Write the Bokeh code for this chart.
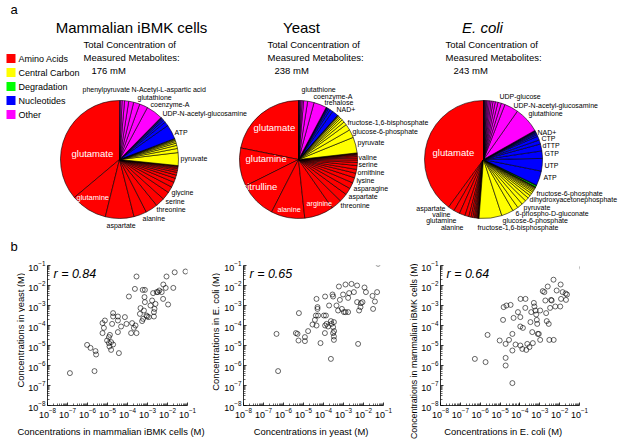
import numpy as np
from bokeh.plotting import figure
from bokeh.models import Range1d, ColumnDataSource, Label, FixedTicker
from bokeh.layouts import column, row
from bokeh.embed import file_html
from bokeh.resources import INLINE
from bokeh.core.properties import value

FONT = "Liberation Sans"

# ---------------------------------------------------------------- data
categories = ["Amino Acids", "Central Carbon", "Degradation", "Nucleotides", "Other"]
category_colors = ["#FF0000", "#FFFF00", "#00FF00", "#0000FF", "#FF00FF"]

organisms = ["Mammalian iBMK cells", "Yeast", "E. coli"]
totals = ["176 mM", "238 mM", "243 mM"]

# slice concentrations (mM); each category sorted largest first,
# pie drawn counter-clockwise from 12 o'clock
ibmk_amino = [63.6, 17.6, 13.8, 6.2, 5.9, 4.4, 3.9, 3.0, 2.5, 2.0, 1.6, 1.3, 1.0, 0.8, 0.6, 0.4, 0.3, 0.2]
ibmk_central = [6.2, 2.0, 1.5, 1.1, 0.8, 0.6, 0.4, 0.3, 0.2]
ibmk_degradation = []
ibmk_nucleotides = [7.0, 2.0, 1.2, 0.8, 0.5, 0.3, 0.2]
ibmk_other = [8.0, 4.0, 3.0, 2.4, 2.0, 1.2, 0.8, 0.4]

yeast_amino = [52, 25, 24, 22, 19, 7, 5.5, 4.5, 4.0, 3.5, 3.0, 2.5, 2.5, 2.0, 1.6, 1.3, 1.0, 0.8, 0.6, 0.4, 0.3, 0.2]
yeast_central = [10.3, 5.3, 4.0, 2.2, 1.8, 1.4, 1.1, 0.8, 0.5, 0.3, 0.1]
yeast_degradation = []
yeast_nucleotides = [4.0, 2.0, 1.2, 0.8, 0.5, 0.3, 0.1]
yeast_other = [8.4, 4.2, 2.6, 1.0, 0.8, 0.6, 0.4, 0.3, 0.2]

ecoli_amino = [96, 4.2, 4.0, 3.8, 2.6, 1.5, 1.2, 1.0, 0.8, 0.7, 0.5, 0.4, 0.3, 0.2, 0.1]
ecoli_central = [15, 7.9, 3.8, 3.6, 3.0, 2.5, 2.0, 1.6, 1.3, 1.0, 0.9, 0.7, 0.5, 0.4, 0.2, 0.1]
ecoli_degradation = [1.0, 0.3]
ecoli_nucleotides = [9.6, 8.3, 4.9, 4.6, 2.7, 2.6, 1.2, 0.9, 0.7, 0.5, 0.4, 0.3, 0.2]
ecoli_other = [17, 9.2, 2.5, 2.2, 1.8, 1.5, 1.3, 1.1, 0.9, 0.8, 0.6, 0.5, 0.4, 0.3, 0.2, 0.1]

# slice names shown
ibmk_names_out = ["phenylpyruvate", "N-Acetyl-L-aspartic acid", "glutathione", "coenzyme-A",
                  "UDP-N-acetyl-glucosamine", "ATP", "pyruvate", "glycine", "serine",
                  "threonine", "alanine", "aspartate"]
ibmk_names_in = ["glutamate", "glutamine"]
yeast_names_out = ["glutathione", "coenzyme-A", "trehalose", "NAD+", "fructose-1,6-bisphosphate",
                   "glucose-6-phosphate", "pyruvate", "valine", "serine", "ornithine", "lysine",
                   "asparagine", "aspartate", "threonine"]
yeast_names_in = ["glutamate", "glutamine", "citrulline", "alanine", "arginine"]
ecoli_names_right = ["UDP-glucose", "UDP-N-acetyl-glucosamine", "glutathione", "NAD+", "CTP",
                     "dTTP", "GTP", "UTP", "ATP", "fructose-6-phosphate",
                     "dihydroxyacetonephosphate", "pyruvate", "6-phospho-D-gluconate",
                     "glucose-6-phosphate", "fructose-1,6-bisphosphate"]
ecoli_names_left = ["aspartate", "valine", "glutamine", "alanine"]
ecoli_names_in = ["glutamate"]

# scatter data: log10 concentration (M)
ibmk_vs_yeast_x = [-6.88, -5.65, -6.02, -5.85, -5.6, -5.57, -5.25, -5.13, -5.18, -5.25, -4.93, -4.88,
                   -5.02, -4.93, -4.82, -4.9, -4.72, -4.82, -4.72, -4.72, -4.77, -4.48, -4.48, -4.48,
                   -4.43, -4.32, -4.13, -4.05, -3.93, -3.82, -3.77, -3.6, -3.68, -3.55, -3.38, -3.35,
                   -3.27, -3.22, -3.18, -3.15, -3.13, -3.05, -3.02, -2.93, -2.85, -2.77, -2.68, -2.68,
                   -2.72, -2.65, -2.6, -2.48, -2.22, -1.97, -3.63, -3.24, -3.13, -2.21, -2.09, -1.71,
                   -2.41, -2.29, -2.54, -3.55, -2.05, -1.64, -1.1]
ibmk_vs_yeast_y = [-6.38, -6.28, -4.97, -5.12, -5.28, -5.45, -3.88, -3.75, -4.12, -4.38, -4.58, -4.47,
                   -4.75, -4.88, -4.83, -5.05, -4.95, -5.22, -3.38, -3.55, -3.92, -3.55, -3.75, -4.33,
                   -5.38, -4.05, -3.58, -3.92, -2.55, -4.38, -3.88, -4.0, -4.12, -4.38, -3.42, -3.13,
                   -3.78, -3.67, -3.25, -2.58, -2.83, -3.5, -3.55, -3.58, -3.0, -2.75, -3.33, -3.55,
                   -2.38, -3.17, -2.92, -2.33, -2.67, -2.95, -2.17, -2.22, -2.22, -1.95, -2.12, -2.12,
                   -2.25, -2.33, -2.33, -1.55, -1.55, -1.34, -1.3]

yeast_vs_ecoli_x = [-6.35, -6.27, -5.38, -5.3, -5.25, -4.93, -4.93, -5.23, -4.77, -4.55, -4.43, -4.38,
                    -4.35, -4.3, -4.3, -4.27, -4.35, -4.15, -3.98, -3.92, -3.88, -3.92, -3.85, -3.93,
                    -3.77, -3.72, -3.63, -3.6, -3.55, -3.52, -3.48, -3.52, -3.52, -3.47, -3.48, -3.48,
                    -3.63, -3.35, -3.27, -3.18, -3.08, -3.02, -2.98, -2.9, -2.77, -2.77, -2.72, -2.48,
                    -2.32, -2.27, -2.22, -2.13, -2.15, -2.05, -1.88, -1.55, -1.52, -1.43, -1.32,
                    -3.23, -2.9, -2.6, -2.32, -1.95, -1.27]
yeast_vs_ecoli_y = [-4.42, -6.28, -4.38, -4.42, -4.75, -4.58, -4.78, -3.38, -4.28, -3.95, -3.72, -3.5,
                    -2.67, -3.08, -3.17, -3.5, -4.0, -4.88, -3.5, -2.55, -3.5, -4.0, -3.92, -4.38,
                    -4.05, -3.0, -3.78, -3.92, -2.45, -2.55, -3.83, -4.08, -4.38, -4.28, -4.55, -4.72,
                    -5.67, -3.0, -3.25, -2.72, -3.17, -2.45, -3.33, -3.33, -2.62, -3.33, -2.38, -2.33,
                    -2.83, -4.92, -3.25, -2.88, -3.08, -2.83, -2.33, -2.52, -3.17, -2.8, -2.33,
                    -2.05, -1.95, -1.92, -2.0, -2.1, -0.91]

ecoli_vs_ibmk_x = [-6.27, -5.73, -5.63, -5.02, -4.85, -4.82, -4.68, -4.47, -4.72, -4.72, -4.72, -4.55,
                   -4.38, -4.38, -4.32, -4.22, -4.1, -3.98, -3.98, -3.97, -3.98, -3.88, -3.85, -3.72,
                   -3.73, -3.68, -3.63, -3.52, -3.47, -3.43, -3.38, -3.35, -3.3, -3.27, -3.22, -3.18,
                   -3.15, -3.13, -3.1, -3.05, -2.98, -2.98, -2.85, -2.77, -2.72, -2.68, -2.65, -2.55,
                   -2.52, -2.48, -2.43, -2.4, -2.3, -2.22, -2.15, -1.97, -1.93, -1.85, -1.68, -1.63,
                   -0.87, -2.31, -1.95, -2.6, -1.7, -4.38]
ecoli_vs_ibmk_y = [-5.67, -5.83, -4.47, -4.75, -3.72, -3.08, -3.0, -2.97, -4.92, -5.62, -6.0, -4.72,
                   -4.42, -5.25, -3.62, -4.95, -3.33, -3.58, -4.05, -2.67, -5.0, -5.17, -4.12, -2.67,
                   -3.12, -5.22, -4.92, -5.08, -3.83, -3.33, -4.33, -4.88, -2.87, -3.05, -3.25, -3.45,
                   -3.72, -3.92, -4.42, -4.42, -4.72, -3.25, -2.28, -2.33, -2.75, -3.38, -3.78, -3.92,
                   -4.72, -3.12, -2.72, -2.75, -4.72, -3.05, -2.25, -3.05, -2.67, -2.33, -2.72, -2.45,
                   -1.11, -1.71, -1.95, -2.05, -2.4, -6.88]

r_values = ["0.84", "0.65", "0.64"]
tick_exponents = [-8, -7, -6, -5, -4, -3, -2, -1]
axis_names = ["mammalian iBMK cells", "yeast", "E. coli"]

# ---------------------------------------------------------------- helpers
def blank(x0, x1, y0, y1):
    """Plain figure whose data coordinates are page pixels (y negated)."""
    f = figure(width=x1 - x0, height=y1 - y0, x_range=Range1d(x0, x1), y_range=Range1d(-y1, -y0),
               output_backend="svg", toolbar_location=None, x_axis_location=None,
               y_axis_location=None, min_border=0)
    f.grid.visible = False
    f.outline_line_color = None
    return f


def texts(fig, names, xs, ys, size, align="left", color="black", style="normal", angle=0.0):
    fig.text(x=xs, y=[-v for v in ys], text=names, text_align=align, text_baseline="middle",
             text_font=value(FONT), text_font_size=size, text_color=color,
             text_font_style=style, angle=angle)


def pie(fig, groups, cx, cy, r):
    vals, cols = [], []
    for g, c in zip(groups, category_colors):
        vals += g
        cols += [c] * len(g)
    vals = np.array(vals, dtype=float)
    cum = np.concatenate([[0.0], np.cumsum(vals)]) / vals.sum()
    src = ColumnDataSource(dict(start=np.pi / 2 + 2 * np.pi * cum[:-1],
                                end=np.pi / 2 + 2 * np.pi * cum[1:], color=cols))
    fig.wedge(x=cx, y=-cy, radius=r, start_angle="start", end_angle="end",
              fill_color="color", line_color="black", line_width=0.6, source=src)


# ---------------------------------------------------------------- top panel (a)
top = blank(0, 622, 0, 255)

R = 59
pie(top, [ibmk_amino, ibmk_central, ibmk_degradation, ibmk_nucleotides, ibmk_other], 119, 159, R)
pie(top, [yeast_amino, yeast_central, yeast_degradation, yeast_nucleotides, yeast_other], 298, 159, R)
pie(top, [ecoli_amino, ecoli_central, ecoli_degradation, ecoli_nucleotides, ecoli_other], 483, 159, R)

texts(top, ["a"], [10], [9], "13px")
texts(top, ["b"], [10], [246], "13px")

legend_y = [58, 72, 86, 100, 114]
top.rect(x=10.5, y=[-v for v in legend_y], width=9, height=9, fill_color=category_colors,
         line_color=None)
texts(top, categories, [18] * 5, legend_y, "9px")

texts(top, organisms[:2], [131, 301], [27, 27], "15px", align="center")
texts(top, organisms[2:], [482], [27], "15px", align="center", style="italic")
sub_x = [83, 267, 445]
for i in range(3):
    texts(top, ["Total Concentration of", "Measured Metabolites:"], [sub_x[i]] * 2, [43.5, 57],
          "9.5px")
texts(top, totals, [91, 274, 453], [70, 70, 70], "9.5px")

texts(top, ibmk_names_out,
      [82, 131, 137, 150, 162, 174, 180, 171, 165, 156, 142, 106],
      [89, 89, 97, 104, 113, 132, 158, 192, 201, 209, 218, 225], "7px")
texts(top, ibmk_names_in[:1], [71], [153], "9.5px", color="white")
texts(top, ibmk_names_in[1:], [76], [197], "7.5px", color="white")

texts(top, yeast_names_out,
      [301, 313, 324, 336, 347, 352, 357, 358, 358, 357, 356, 353, 348, 340],
      [89, 96, 102, 109, 122, 131, 142, 157, 164, 172, 180, 188, 196, 205], "7px")
texts(top, yeast_names_in[:3], [253, 245, 242], [127, 158, 186], "9.5px", color="white")
texts(top, yeast_names_in[3:], [277, 306], [209, 203], "7.2px", color="white")

texts(top, ecoli_names_right,
      [499, 513, 528, 537, 541, 542, 544, 544, 543, 536, 529, 523, 515, 502, 477],
      [96, 105, 113, 132, 138, 145, 153, 165, 177, 193, 199, 207, 213, 220, 227], "7px")
texts(top, ecoli_names_left, [445, 450, 456, 463], [208, 214, 220, 227], "7px", align="right")
texts(top, ecoli_names_in, [432], [152], "9.5px", color="white")

# ---------------------------------------------------------------- scatter panels (b)
major = [10.0 ** e for e in tick_exponents]
minor = [k * 10.0 ** e for e in tick_exponents[:-1] for k in range(2, 10)]

PANEL_TOP, FRAME_TOP, FRAME_BOTTOM, PANEL_BOTTOM = 255, 265, 405, 424


def scatter_panel(x0, x1, frame_left, frame_right, xs, ys, r_txt):
    s = figure(width=x1 - x0, height=PANEL_BOTTOM - PANEL_TOP, x_axis_type="log",
               y_axis_type="log", x_range=Range1d(1e-8, 1e-1), y_range=Range1d(1e-8, 1e-1),
               min_border_left=frame_left - x0, min_border_right=x1 - frame_right,
               min_border_top=FRAME_TOP - PANEL_TOP, min_border_bottom=PANEL_BOTTOM - FRAME_BOTTOM,
               output_backend="svg", toolbar_location=None)
    s.grid.visible = False
    s.outline_line_color = None
    for ax in (s.xaxis[0], s.yaxis[0]):
        ax.ticker = FixedTicker(ticks=major, minor_ticks=minor)
        ax.major_tick_in = 3
        ax.major_tick_out = 0
        ax.minor_tick_in = 2
        ax.minor_tick_out = 0
        ax.axis_line_width = 0.8
        ax.major_tick_line_width = 0.8
        ax.minor_tick_line_width = 0.6
        ax.major_label_text_font = FONT
        ax.major_label_text_font_size = "9px"
        ax.major_label_text_color = "black"
        ax.major_label_standoff = 2
    s.scatter(x=[10.0 ** v for v in xs], y=[10.0 ** v for v in ys], size=5, marker="circle",
              fill_color=None, line_color="black", line_width=0.6)
    s.add_layout(Label(x=6, y=132, x_units="screen", y_units="screen", text="r = " + r_txt,
                       text_align="left", text_baseline="middle", text_font=FONT,
                       text_font_size="12.5px", text_font_style="italic", text_color="black"))
    return s


s1 = scatter_panel(25, 205, 47, 187, ibmk_vs_yeast_x, ibmk_vs_yeast_y, r_values[0])
s2 = scatter_panel(220, 405, 243, 383, yeast_vs_ecoli_x, yeast_vs_ecoli_y, r_values[1])
s3 = scatter_panel(418, 622, 439, 579, ecoli_vs_ibmk_x, ecoli_vs_ibmk_y, r_values[2])


def axis_title(name):
    return "Concentrations in " + name + " (M)"


# y-axis titles (rotated, top end just above the frame top)
yl1 = blank(0, 25, PANEL_TOP, PANEL_BOTTOM)
texts(yl1, [axis_title(axis_names[1])], [20], [264], "9.4px", align="right", angle=np.pi / 2)
yl2 = blank(205, 220, PANEL_TOP, PANEL_BOTTOM)
texts(yl2, [axis_title(axis_names[2])], [215], [264], "9.4px", align="right", angle=np.pi / 2)
yl3 = blank(405, 418, PANEL_TOP, 442)
texts(yl3, [axis_title(axis_names[0])], [413], [263], "8.8px", align="right", angle=np.pi / 2)

# x-axis titles
xl12 = blank(0, 405, PANEL_BOTTOM, 442)
texts(xl12, [axis_title(axis_names[0]), axis_title(axis_names[1])], [110.5, 310.5], [431, 431],
      "9.4px", align="center")
xl3 = blank(418, 622, PANEL_BOTTOM, 442)
texts(xl3, [axis_title(axis_names[2])], [510], [431], "9.4px", align="center")

bottom = row(column(row(yl1, s1, yl2, s2, spacing=0), xl12, spacing=0), yl3,
             column(s3, xl3, spacing=0), spacing=0)
layout = column(top, bottom, spacing=0)
open("out.html", "w").write(file_html(layout, INLINE))
